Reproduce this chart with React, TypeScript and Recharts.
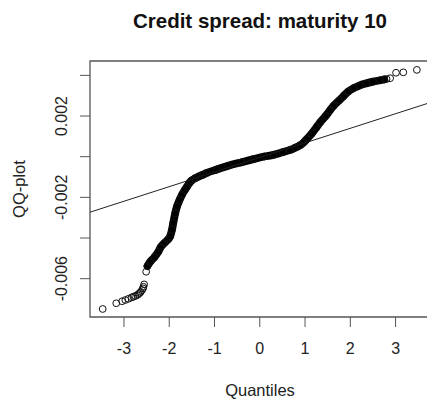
import { ComposedChart, Line, Scatter, XAxis, YAxis, ReferenceArea } from 'recharts';

// isolated points in the tails
const tailX = [-3.47, -3.17, -3.04, -2.97, -2.9, -2.83, -2.79, -2.75, -2.71, -2.68, -2.65, -2.63, -2.6, -2.58, -2.57, -2.555, -2.51, 2.8, 2.88, 3.01, 3.17, 3.47];
const tailY = [-0.00749, -0.00721, -0.00711, -0.00705, -0.00699, -0.00692, -0.00689, -0.00685, -0.00681, -0.00676, -0.0067, -0.00665, -0.00656, -0.00648, -0.0064, -0.00628, -0.00566, 0.00382, 0.00386, 0.00413, 0.00415, 0.00427];

// dense band of sample quantiles
const coreX = [-2.48, -2.42, -2.33, -2.24, -2.19, -2.11, -2.03, -1.98, -1.94, -1.91, -1.87, -1.83, -1.77, -1.72, -1.66, -1.61, -1.55, -1.5, -1.43, -1.355, -1.25, -1.17, -0.95, -0.7, -0.4, -0.14, 0.1, 0.3, 0.5, 0.67, 0.78, 0.89, 0.97, 1.04, 1.15, 1.26, 1.33, 1.45, 1.55, 1.63, 1.75, 1.85, 1.95, 2.07, 2.2, 2.36, 2.5, 2.66, 2.75];
const coreY = [-0.00538, -0.00517, -0.00495, -0.00467, -0.00445, -0.00425, -0.00408, -0.00392, -0.0036, -0.00325, -0.0028, -0.00246, -0.00212, -0.00188, -0.00165, -0.00148, -0.00128, -0.00116, -0.00106, -0.00098, -0.00088, -0.0008, -0.00063, -0.00045, -0.00027, -0.00012, 0.00001, 0.00009, 0.00022, 0.00033, 0.00044, 0.00056, 0.0007, 0.00087, 0.00114, 0.00147, 0.00168, 0.00199, 0.00228, 0.0025, 0.00276, 0.00298, 0.0032, 0.00337, 0.0035, 0.00361, 0.00369, 0.00376, 0.0038];

// qqline endpoints
const lineX = [-3.75, 3.76];
const lineY = [-0.00273, 0.00266];

const xTicks = [-3, -2, -1, 0, 1, 2, 3];
const yTicks = [-0.006, -0.004, -0.002, 0, 0.002, 0.004];
const yTickLabels = ['-0.006', '', '-0.002', '', '0.002', ''];

const xDomain = [-3.75, 3.76];
const yDomain = [-0.007885, 0.004707];

const font = '"Liberation Sans", Arial, sans-serif';

const core = coreX.map((x, i) => ({ x, y: coreY[i] }));
const points = [...tailX.map((x, i) => ({ x, y: tailY[i] })), ...core].sort((a, b) => a.x - b.x);
const qqLine = lineX.map((x, i) => ({ x, y: lineY[i] }));

const OpenCircle = (props: any) => (
  <circle cx={props.cx} cy={props.cy} r={3.4} fill="none" stroke="#111" strokeWidth={1} />
);

const YTick = (props: any) => {
  const { x, y, payload } = props;
  const idx = yTicks.findIndex(t => Math.abs(t - payload.value) < 1e-9);
  const label = idx >= 0 ? yTickLabels[idx] : '';
  if (!label) return null;
  return (
    <text x={x} y={y} transform={`rotate(-90, ${x}, ${y})`} textAnchor="middle" fontSize={16} fill="#222" fontFamily={font}>
      {label}
    </text>
  );
};

export default function App() {
  return (
    <div style={{ position: 'fixed', left: 0, top: 0, width: 427, height: 405, overflow: 'hidden', background: '#fff' }}>
      <div style={{ position: 'absolute', left: 90, top: 11, width: 340, textAlign: 'center', fontFamily: font, fontWeight: 'bold', fontSize: 20.5, lineHeight: '20px', color: '#111' }}>
        Credit spread: maturity 10
      </div>
      <div style={{ position: 'absolute', left: 0, top: 0 }}>
        <ComposedChart width={440} height={405} margin={{ top: 61, right: 10, left: 0, bottom: 0 }}>
          <XAxis
            type="number"
            dataKey="x"
            domain={xDomain}
            ticks={xTicks}
            interval={0}
            allowDataOverflow
            height={88}
            axisLine={false}
            tickSize={10}
            tickMargin={16}
            tickLine={{ stroke: '#555' }}
            tick={{ fontSize: 16, fill: '#222', fontFamily: font }}
            label={{ value: 'Quantiles', position: 'insideBottom', offset: 9, fontSize: 16.5, fill: '#222', fontFamily: font }}
          />
          <YAxis
            type="number"
            dataKey="y"
            domain={yDomain}
            ticks={yTicks}
            interval={0}
            allowDataOverflow
            width={90}
            axisLine={false}
            tickSize={10}
            tickMargin={13}
            tickLine={{ stroke: '#555' }}
            tick={<YTick />}
            label={{ value: 'QQ-plot', angle: -90, position: 'insideLeft', offset: 19, fontSize: 16.5, fill: '#222', fontFamily: font, style: { textAnchor: 'middle' } }}
          />
          <ReferenceArea x1={xDomain[0]} x2={xDomain[1]} y1={yDomain[0]} y2={yDomain[1]} fill="none" fillOpacity={0} stroke="#555" strokeWidth={1.3} ifOverflow="visible" />
          <Line data={core} dataKey="y" type="monotone" stroke="#000" strokeWidth={7.8} strokeLinecap="round" strokeLinejoin="round" dot={false} activeDot={false} isAnimationActive={false} />
          <Scatter data={points} dataKey="y" shape={<OpenCircle />} isAnimationActive={false} />
          <Line data={qqLine} dataKey="y" type="linear" stroke="#222" strokeWidth={1} dot={false} activeDot={false} isAnimationActive={false} />
        </ComposedChart>
      </div>
    </div>
  );
}
